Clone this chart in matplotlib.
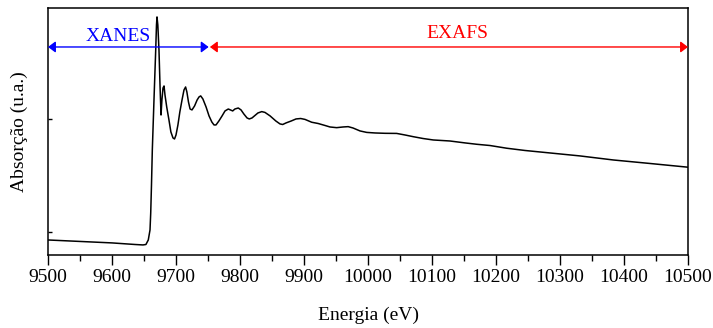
import numpy as np
import matplotlib
matplotlib.use('Agg')
import matplotlib.pyplot as plt
from matplotlib.ticker import MultipleLocator

plt.rcParams['font.family'] = 'Liberation Serif'
plt.rcParams['mathtext.fontset'] = 'stix'

# absorption spectrum
energy = [9500, 9550, 9600, 9636, 9648.4, 9653, 9656.7, 9659.4, 9660.5, 9661.7,
          9663, 9665.6, 9668.3, 9669.5, 9670.3, 9671.6, 9673.4, 9675, 9676.6, 9678,
          9679.7, 9681.3, 9682.8, 9685.5, 9689, 9692, 9695.3, 9697.7, 9700, 9703,
          9706, 9709.4, 9712.5, 9715, 9717, 9719.5, 9722, 9725, 9729, 9733,
          9736, 9738.6, 9742, 9747, 9751.6, 9756, 9759.4, 9762.5, 9767, 9772,
          9776.6, 9781.7, 9785, 9788.6, 9792, 9797.3, 9801.6, 9806, 9811, 9814.5,
          9818.8, 9823.4, 9828, 9834, 9839, 9847, 9856, 9862.5, 9866.7, 9872,
          9880, 9887.5, 9894.8, 9901.6, 9912, 9922, 9933, 9940.6, 9951, 9961,
          9969, 9976.6, 9987.5, 9998, 10011, 10026.6, 10044.8, 10058, 10070.8, 10086,
          10102, 10128, 10151.6, 10169.8, 10190.6, 10216.7, 10245.3, 10279.2, 10331, 10383.3,
          10440.6, 10500]
absorb = [0.929, 0.916, 0.903, 0.889, 0.885, 0.889, 0.929, 1.018, 1.168, 1.416,
          1.726, 2.168, 2.611, 2.832, 2.903, 2.832, 2.611, 2.301, 2.035, 2.168,
          2.274, 2.292, 2.212, 2.106, 1.991, 1.885, 1.832, 1.823, 1.858, 1.947,
          2.062, 2.168, 2.257, 2.283, 2.239, 2.150, 2.088, 2.080, 2.115, 2.168,
          2.195, 2.204, 2.177, 2.106, 2.027, 1.973, 1.947, 1.947, 1.982, 2.027,
          2.071, 2.088, 2.080, 2.071, 2.088, 2.097, 2.080, 2.044, 2.009, 2.000,
          2.009, 2.031, 2.053, 2.065, 2.058, 2.027, 1.982, 1.956, 1.951, 1.965,
          1.982, 2.000, 2.004, 1.996, 1.971, 1.960, 1.942, 1.929, 1.923, 1.929,
          1.932, 1.920, 1.894, 1.881, 1.876, 1.873, 1.872, 1.858, 1.843, 1.827,
          1.814, 1.805, 1.788, 1.776, 1.765, 1.741, 1.721, 1.702, 1.673, 1.637,
          1.606, 1.573]

xanes_range = [9500, 9751]
exafs_range = [9753, 10500]
arrow_y = 2.637

fig = plt.figure(figsize=(7.13, 3.28), dpi=100)
ax = fig.add_axes([48/713, 73/328, 640/713, 247/328])

ax.plot(energy, absorb, 'k-', lw=1.1)

ax.annotate('', xy=(xanes_range[1], arrow_y), xytext=(xanes_range[0], arrow_y),
            arrowprops=dict(arrowstyle='<|-|>,head_width=0.3', color='blue', lw=1.0,
                            mutation_scale=11, shrinkA=0, shrinkB=0))
ax.annotate('', xy=(exafs_range[1], arrow_y), xytext=(exafs_range[0], arrow_y),
            arrowprops=dict(arrowstyle='<|-|>,head_width=0.3', color='red', lw=1.0,
                            mutation_scale=11, shrinkA=0, shrinkB=0))
ax.text(9610, 2.73, 'XANES', color='blue', fontsize=14, ha='center', va='center')
ax.text(10140, 2.755, 'EXAFS', color='red', fontsize=14, ha='center', va='center')

ax.set_xlim(9500, 10500)
ax.set_ylim(0.796, 2.982)
ax.xaxis.set_major_locator(MultipleLocator(100))
ax.xaxis.set_minor_locator(MultipleLocator(50))
ax.set_yticks([1.0, 2.0])
ax.set_yticklabels([])
ax.tick_params(axis='x', which='major', direction='out', length=7, width=1.0,
               labelsize=14, pad=3)
ax.tick_params(axis='x', which='minor', direction='out', length=4, width=1.0)
ax.tick_params(axis='y', which='major', direction='in', length=3, width=1.0)
for s in ax.spines.values():
    s.set_linewidth(1.1)

ax.set_xlabel('Energia (eV)', fontsize=14, labelpad=15)
ax.set_ylabel('Absorção (u.a.)', fontsize=14, labelpad=11)

plt.savefig('out.png', dpi=100)
